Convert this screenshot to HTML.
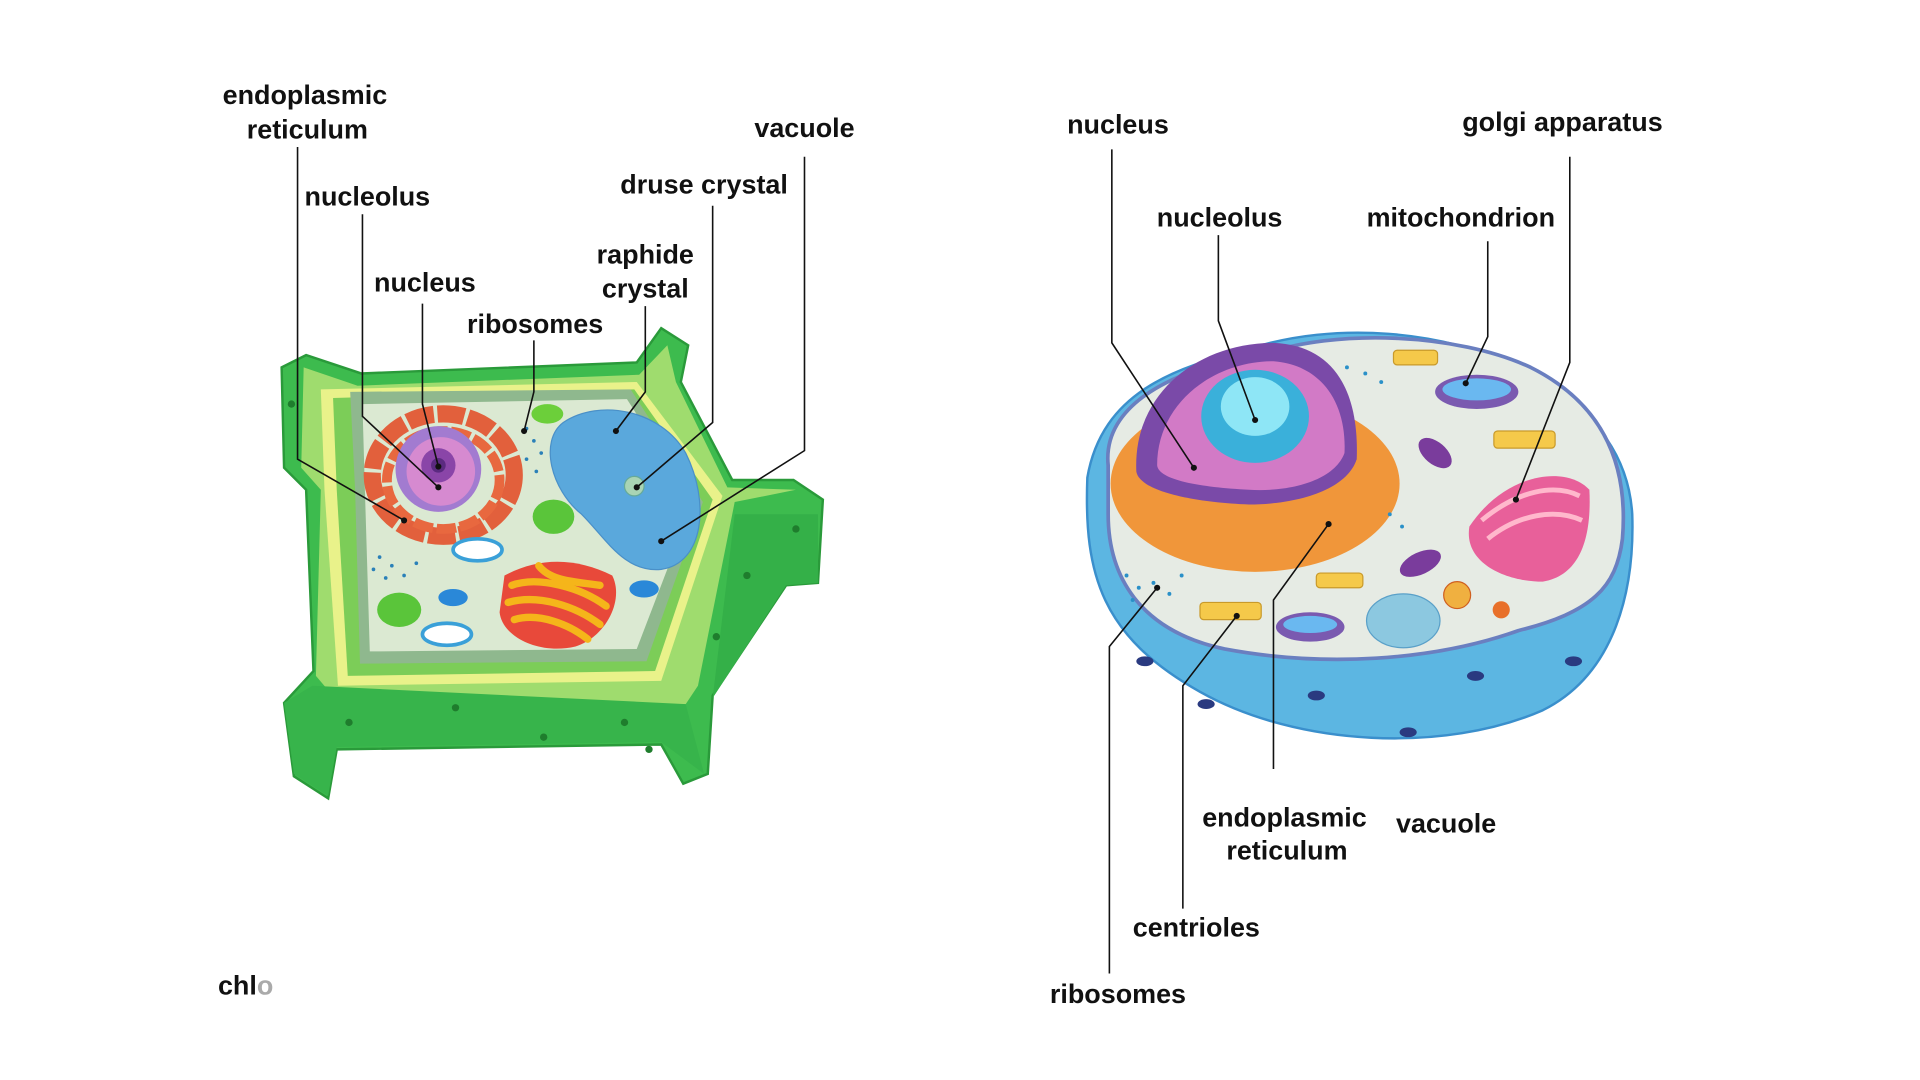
<!DOCTYPE html>
<html><head><meta charset="utf-8"><style>
html,body{margin:0;padding:0;background:#fff;width:1920px;height:1080px;overflow:hidden}
svg{display:block}
text{font-family:"Liberation Sans",sans-serif;font-weight:bold;font-size:22px;fill:#111;text-anchor:middle}
</style></head><body>
<svg width="1920" height="1080" viewBox="0 0 1568 882" xmlns="http://www.w3.org/2000/svg">
<g>
<path d="M230,300 L250,290 L295,305 L520,296 L540,268 L562,282 L556,312 L598,392 L648,392 L672,408 L668,476 L642,478 L582,568 L578,632 L558,640 L540,608 L275,612 L268,652 L240,634 L232,574 L256,548 L250,400 L232,382 Z" fill="#3dbb4e" stroke="#2a9a3a" stroke-width="2"/>
<path d="M248,300 L292,315 L522,306 L545,282 L552,312 L594,398 L650,400 L600,410 L570,560 L560,575 L275,572 L258,552 L262,400 L246,382 Z" fill="#9fdc6e"/>
<path d="M262,318 L520,312 L590,405 L540,556 L276,560 L265,400 Z" fill="#e9f28a"/>
<path d="M272,325 L518,318 L582,408 L535,548 L284,552 L275,400 Z" fill="#7ccd58"/>
<path d="M286,320 L515,318 L574,410 L528,540 L294,542 L290,400 Z" fill="#8fb88e"/>
<path d="M296,330 L512,326 L566,410 L520,530 L302,532 L298,400 Z" fill="#dbe9d2"/>
<path d="M255,560 L560,575 L575,632 L540,606 L275,610 L268,650 L240,632 L232,574 Z" fill="#37b44b"/>
<path d="M582,570 L600,420 L668,420 L668,476 L642,478 Z" fill="#34b048"/>
<g fill="#1f7d2d"><circle cx="285" cy="590" r="3"/><circle cx="372" cy="578" r="3"/><circle cx="444" cy="602" r="3"/><circle cx="510" cy="590" r="3"/><circle cx="530" cy="612" r="3"/><circle cx="610" cy="470" r="3"/><circle cx="650" cy="432" r="3"/><circle cx="585" cy="520" r="3"/><circle cx="238" cy="330" r="3"/></g>
<path d="M460,345 C490,325 540,335 560,370 C580,410 575,460 540,465 C510,468 495,440 475,420 C450,400 440,360 460,345 Z" fill="#5aa8dc" stroke="#4a90c8"/>
<circle cx="518" cy="397" r="8" fill="#a9d4b4" stroke="#6a9" />
<ellipse cx="362" cy="388" rx="58" ry="50" fill="none" stroke="#e2603c" stroke-width="14" stroke-dasharray="22 3"/>
<ellipse cx="362" cy="392" rx="46" ry="40" fill="none" stroke="#e8683f" stroke-width="8" stroke-dasharray="16 3"/>
<circle cx="358" cy="383" r="35" fill="#a27bd0"/>
<circle cx="360" cy="385" r="28" fill="#d68ad0"/>
<circle cx="358" cy="380" r="14" fill="#8a45a8"/>
<circle cx="358" cy="380" r="6" fill="#5b2a80"/>
<path d="M412,470 C440,455 470,455 500,470 C510,490 495,520 470,528 C440,535 410,520 408,500 Z" fill="#e8493a"/>
<g stroke="#f5b51a" stroke-width="6" fill="none" stroke-linecap="round"><path d="M418,478 C440,470 475,480 495,495"/><path d="M415,492 C440,485 470,495 490,510"/><path d="M420,506 C440,500 465,510 480,522"/><path d="M440,462 C450,475 470,475 490,478"/></g>
<ellipse cx="447" cy="338" rx="13" ry="8" fill="#6ccf3a"/>
<ellipse cx="452" cy="422" rx="17" ry="14" fill="#5ac53a"/>
<ellipse cx="326" cy="498" rx="18" ry="14" fill="#5ac53a"/>
<ellipse cx="390" cy="449" rx="20" ry="9" fill="#fff" stroke="#3aa0d8" stroke-width="3"/>
<ellipse cx="365" cy="518" rx="20" ry="9" fill="#fff" stroke="#3aa0d8" stroke-width="3"/>
<ellipse cx="370" cy="488" rx="12" ry="7" fill="#2a88d8"/>
<ellipse cx="526" cy="481" rx="12" ry="7" fill="#2a88d8"/>
<g fill="#2a80b8"><circle cx="430" cy="350" r="1.5"/><circle cx="436" cy="360" r="1.5"/><circle cx="442" cy="370" r="1.5"/><circle cx="430" cy="375" r="1.5"/><circle cx="438" cy="385" r="1.5"/><circle cx="310" cy="455" r="1.5"/><circle cx="320" cy="462" r="1.5"/><circle cx="330" cy="470" r="1.5"/><circle cx="315" cy="472" r="1.5"/><circle cx="340" cy="460" r="1.5"/><circle cx="305" cy="465" r="1.5"/></g>
</g>
<g>
<path d="M888,390 C885,470 900,520 980,565 C1060,610 1180,615 1260,580 C1320,550 1335,480 1333,420 C1330,370 1300,330 1240,300 C1180,270 1090,262 1020,285 C960,300 900,320 888,390 Z" fill="#5cb6e2" stroke="#3a8fcc" stroke-width="2"/>
<path d="M905,380 C900,330 960,300 1030,290 C1090,268 1190,272 1250,300 C1310,330 1330,380 1325,440 C1320,480 1300,500 1240,515 C1170,540 1080,545 1000,530 C930,515 905,470 905,420 Z" fill="#e6ebe4" stroke="#6a7fc0" stroke-width="3"/>
<g fill="#2a3a80"><ellipse cx="935" cy="540" rx="7" ry="4"/><ellipse cx="985" cy="575" rx="7" ry="4"/><ellipse cx="1075" cy="568" rx="7" ry="4"/><ellipse cx="1150" cy="598" rx="7" ry="4"/><ellipse cx="1205" cy="552" rx="7" ry="4"/><ellipse cx="1285" cy="540" rx="7" ry="4"/></g>
<ellipse cx="1025" cy="395" rx="118" ry="72" fill="#f0963a"/>
<path d="M928,385 C925,320 980,280 1040,280 C1090,282 1110,320 1108,375 C1100,400 1060,412 1020,412 C970,410 930,400 928,385 Z" fill="#7a4aa8"/>
<path d="M945,380 C945,330 990,295 1040,295 C1080,298 1100,330 1098,370 C1090,392 1055,402 1020,400 C980,398 946,392 945,380 Z" fill="#d27ac6"/>
<ellipse cx="1025" cy="340" rx="44" ry="38" fill="#3ab0da"/>
<ellipse cx="1025" cy="332" rx="28" ry="24" fill="#8ee6f6"/>
<ellipse cx="1206" cy="320" rx="34" ry="14" fill="#7a5ab0"/><ellipse cx="1206" cy="318" rx="28" ry="9" fill="#6ab8f0"/>
<ellipse cx="1070" cy="512" rx="28" ry="12" fill="#7a5ab0"/><ellipse cx="1070" cy="510" rx="22" ry="7" fill="#6ab8f0"/>
<ellipse cx="1172" cy="370" rx="16" ry="9" fill="#7a3c9c" transform="rotate(40 1172 370)"/>
<ellipse cx="1160" cy="460" rx="18" ry="9" fill="#7a3c9c" transform="rotate(-25 1160 460)"/>
<path d="M1200,430 C1230,385 1280,380 1298,400 C1300,440 1290,470 1260,475 C1230,475 1195,460 1200,430 Z" fill="#e8609a"/>
<g stroke="#ffb8cc" stroke-width="4" fill="none"><path d="M1210,425 C1240,400 1270,395 1290,405"/><path d="M1215,440 C1240,420 1270,415 1292,425"/></g>
<ellipse cx="1146" cy="507" rx="30" ry="22" fill="#8cc8e0" stroke="#5aa0c8"/>
<g fill="#f5c94a" stroke="#c99a2a"><rect x="1138" y="286" width="36" height="12" rx="3"/><rect x="1220" y="352" width="50" height="14" rx="3"/><rect x="1075" y="468" width="38" height="12" rx="3"/><rect x="980" y="492" width="50" height="14" rx="3"/></g>
<circle cx="1190" cy="486" r="11" fill="#f0b040" stroke="#d06020"/>
<circle cx="1226" cy="498" r="7" fill="#e8702a"/>
<g fill="#2a90c8"><circle cx="920" cy="470" r="1.6"/><circle cx="930" cy="480" r="1.6"/><circle cx="942" cy="476" r="1.6"/><circle cx="955" cy="485" r="1.6"/><circle cx="925" cy="490" r="1.6"/><circle cx="965" cy="470" r="1.6"/><circle cx="1100" cy="300" r="1.6"/><circle cx="1115" cy="305" r="1.6"/><circle cx="1128" cy="312" r="1.6"/><circle cx="1135" cy="420" r="1.6"/><circle cx="1145" cy="430" r="1.6"/></g>
</g>
<g stroke="#111" stroke-width="1.3" fill="none">
<polyline points="243,120 243,375 330,425"/>
<polyline points="296,175 296,340 358,398"/>
<polyline points="345,248 345,330 358,381"/>
<polyline points="436,278 436,320 428,352"/>
<polyline points="527,250 527,320 503,352"/>
<polyline points="582,168 582,345 520,398"/>
<polyline points="657,128 657,368 540,442"/>
<polyline points="908,122 908,280 975,382"/>
<polyline points="995,192 995,262 1025,343"/>
<polyline points="1215,197 1215,275 1197,313"/>
<polyline points="1282,128 1282,296 1238,408"/>
<polyline points="1040,628 1040,490 1085,428"/>
<polyline points="966,742 966,560 1010,503"/>
<polyline points="906,795 906,528 945,480"/>
</g>
<g fill="#111"><circle cx="330" cy="425" r="2.5"/><circle cx="358" cy="398" r="2.5"/><circle cx="358" cy="381" r="2.5"/><circle cx="428" cy="352" r="2.5"/><circle cx="503" cy="352" r="2.5"/><circle cx="520" cy="398" r="2.5"/><circle cx="540" cy="442" r="2.5"/><circle cx="975" cy="382" r="2.5"/><circle cx="1025" cy="343" r="2.5"/><circle cx="1197" cy="313" r="2.5"/><circle cx="1238" cy="408" r="2.5"/><circle cx="1085" cy="428" r="2.5"/><circle cx="1010" cy="503" r="2.5"/><circle cx="945" cy="480" r="2.5"/></g>
<text x="249" y="85">endoplasmic</text>
<text x="251" y="113">reticulum</text>
<text x="300" y="168">nucleolus</text>
<text x="347" y="238">nucleus</text>
<text x="437" y="272">ribosomes</text>
<text x="527" y="215">raphide</text>
<text x="527" y="243">crystal</text>
<text x="575" y="158">druse crystal</text>
<text x="657" y="112">vacuole</text>
<text x="178" y="812" style="text-anchor:start">chl<tspan fill="#aaa">o</tspan></text>
<text x="913" y="109">nucleus</text>
<text x="1276" y="107">golgi apparatus</text>
<text x="996" y="185">nucleolus</text>
<text x="1193" y="185">mitochondrion</text>
<text x="1049" y="675">endoplasmic</text>
<text x="1051" y="702">reticulum</text>
<text x="1181" y="680">vacuole</text>
<text x="977" y="765">centrioles</text>
<text x="913" y="819">ribosomes</text>
</svg>
</body></html>
